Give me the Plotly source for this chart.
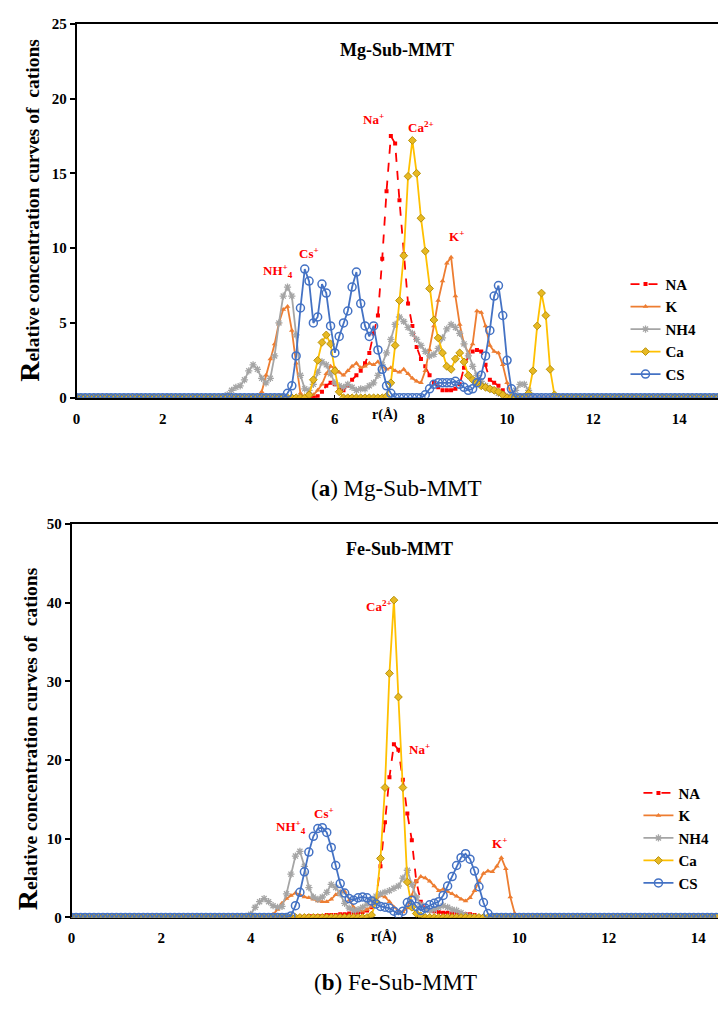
import plotly.graph_objects as go

# ---------------- data (step 0.1 Å) ----------------
STEP = 0.1
mg_r = [round(i * STEP, 1) for i in range(150)]   # 0 .. 14.9
fe_r = [round(i * STEP, 1) for i in range(145)]   # 0 .. 14.4

series_names = ["NA", "K", "NH4", "Ca", "CS"]

# Mg-Sub-MMT: (start r, values)
mg_na_start = 5.6
mg_na = [0.1, 0.4, 0.8, 1.0, 0.9, 0.6, 0.5, 0.8, 1.2, 1.5,
         1.8, 2.3, 3.0, 4.3, 5.5, 9.3, 13.8, 17.5, 17.0, 13.2,
         9.6, 6.3, 4.8, 3.4, 2.6, 2.1, 1.5, 1.0, 0.7, 0.5,
         0.5, 0.5, 0.6, 0.9, 2.0, 2.8, 3.1, 3.2, 3.1, 2.2,
         1.2, 1.0, 0.8, 0.5, 0.1]
mg_k_start = 4.3
mg_k = [0.4, 1.5, 2.6, 3.6, 5.0, 5.9, 6.1, 4.5, 2.3, 0.3,
        0.0, 0.0, 0.2, 0.5, 0.9, 1.6, 2.1, 2.0, 1.7, 1.5,
        1.8, 2.1, 2.3, 2.0, 2.1, 2.3, 2.2, 2.4, 2.1, 1.9,
        2.0, 1.8, 1.7, 1.9, 1.6, 1.3, 1.1, 1.0, 1.8, 3.2,
        4.8, 6.5, 7.8, 9.0, 9.4, 6.8, 4.9, 3.6, 3.0, 3.6,
        5.8, 5.7, 4.8, 3.5, 3.1, 3.0, 2.2, 1.0, 0.2]
mg_nh4_start = 3.5
mg_nh4 = [0.2, 0.5, 0.7, 0.8, 1.2, 1.8, 2.2, 1.9, 1.3, 1.0,
          1.3, 2.8, 5.0, 6.8, 7.4, 6.8, 4.2, 1.5, 0.6, 0.5,
          0.9, 1.7, 2.4, 2.2, 1.6, 1.0, 0.8, 0.7, 0.9, 0.7,
          0.5, 0.6, 0.6, 0.8, 1.0, 1.5, 2.2, 3.0, 3.9, 4.9,
          5.4, 5.1, 4.7, 4.3, 3.9, 3.5, 3.1, 2.8, 2.9, 3.3,
          4.0, 4.6, 4.9, 4.7, 4.3, 3.6, 2.8, 2.1, 1.5, 1.1,
          0.8, 0.6, 0.5, 0.3, 0.2, 0.1, 0.2, 0.5, 0.9, 0.9,
          0.5, 0.1]
mg_ca_start = 5.3
mg_ca = [0.0, 0.2, 1.2, 2.5, 3.7, 4.2, 3.6, 1.8, 0.4, 0.0,
         0.0, 0.0, 0.0, 0.0, 0.0, 0.0, 0.0, 0.0, 0.0, 0.1,
         1.0, 3.5, 6.5, 9.5, 14.8, 17.2, 15.0, 12.0, 9.8, 7.3,
         5.2, 4.0, 3.0, 2.1, 1.9, 2.6, 3.0, 2.4, 1.5, 1.2,
         1.0, 0.8, 0.7, 0.6, 0.5, 0.4, 0.2, 0.0, 0.0, 0.0,
         0.0, 0.0, 0.3, 1.8, 4.8, 7.0, 5.5, 1.9, 0.2]
mg_cs_start = 4.8
mg_cs = [0.0, 0.3, 0.8, 2.8, 6.0, 8.6, 7.8, 5.0, 5.4, 7.6,
         7.0, 4.8, 3.0, 4.1, 5.0, 5.8, 7.4, 8.4, 6.3, 4.8,
         4.1, 4.8, 3.2, 1.9, 0.8, 0.3, 0.0, 0.0, 0.0, 0.0,
         0.0, 0.0, 0.0, 0.2, 0.6, 0.9, 1.0, 1.0, 1.0, 1.0,
         1.1, 0.9, 0.7, 0.5, 0.6, 1.0, 1.5, 2.8, 4.5, 6.8,
         7.5, 5.5, 2.5, 0.6, 0.0]

# Fe-Sub-MMT
fe_na_start = 5.0
fe_na = [0.1, 0.1, 0.1, 0.2, 0.2, 0.2, 0.2, 0.3, 0.3, 0.3,
         0.4, 0.4, 0.5, 0.5, 0.6, 0.7, 0.9, 1.3, 2.4, 6.5,
         12.1, 17.8, 22.0, 21.3, 17.5, 13.2, 9.8, 4.6, 2.0, 1.2,
         0.9, 0.8, 0.7, 0.6, 0.6, 0.5, 0.5, 0.5, 0.4, 0.4,
         0.3, 0.1]
fe_k_start = 4.4
fe_k = [0.1, 0.4, 1.0, 1.8, 2.4, 2.8, 3.1, 2.9, 2.6, 2.5,
        2.3, 2.1, 2.0, 2.0, 2.3, 2.9, 3.3, 3.3, 2.2, 1.3,
        0.9, 0.8, 1.0, 1.4, 2.2, 2.8, 2.6, 2.0, 1.3, 0.8,
        0.7, 1.2, 2.8, 4.6, 5.2, 5.0, 4.6, 4.0, 3.4, 3.6,
        3.3, 3.0, 2.7, 2.3, 2.1, 2.5, 3.4, 4.6, 5.6, 5.9,
        5.8, 6.5, 7.6, 6.2, 2.6, 0.5]
fe_nh4_start = 3.9
fe_nh4 = [0.1, 0.4, 1.3, 2.0, 2.4, 2.0, 1.5, 1.3, 1.4, 3.0,
          5.5, 7.8, 8.4, 6.5, 3.8, 2.6, 2.3, 2.6, 3.2, 4.2,
          3.8, 3.0, 1.8, 1.2, 0.9, 1.0, 1.3, 1.7, 2.2, 2.7,
          3.0, 3.2, 3.4, 3.7, 4.0, 5.0, 6.0, 4.2, 2.6, 1.6,
          1.0, 0.9, 1.0, 1.3, 1.5, 1.3, 1.0, 0.9, 0.6, 0.3,
          0.1]
fe_ca_start = 6.7
fe_ca = [0.3, 2.0, 7.5, 16.5, 31.0, 40.3, 28.0, 16.5, 4.5, 1.3,
         0.5, 0.2]
fe_cs_start = 4.9
fe_cs = [0.2, 1.5, 3.2, 5.8, 8.3, 10.3, 11.3, 11.4, 10.8, 8.9,
         6.6, 4.3, 3.1, 2.4, 2.2, 2.5, 2.6, 2.5, 2.1, 1.7,
         1.4, 1.3, 1.2, 0.8, 0.4, 0.8, 1.9, 2.2, 1.4, 0.9,
         1.2, 1.6, 1.8, 2.0, 2.8, 4.0, 5.2, 6.6, 7.6, 8.1,
         7.4, 5.9, 3.9, 1.9, 0.5, 0.0]

mg_ticks = [0, 2, 4, 6, 8, 10, 12, 14]
mg_yticks = [0, 5, 10, 15, 20, 25]
fe_yticks = [0, 10, 20, 30, 40, 50]


def full(grid, start, vals):
    arr = [0.0] * len(grid)
    i0 = int(round(start / STEP))
    for i, v in enumerate(vals):
        if i0 + i < len(arr):
            arr[i0 + i] = v
    return arr


mg_data = [full(mg_r, mg_na_start, mg_na), full(mg_r, mg_k_start, mg_k),
           full(mg_r, mg_nh4_start, mg_nh4), full(mg_r, mg_ca_start, mg_ca),
           full(mg_r, mg_cs_start, mg_cs)]
fe_data = [full(fe_r, fe_na_start, fe_na), full(fe_r, fe_k_start, fe_k),
           full(fe_r, fe_nh4_start, fe_nh4), full(fe_r, fe_ca_start, fe_ca),
           full(fe_r, fe_cs_start, fe_cs)]

# ---------------- styles ----------------
styles = [
    dict(line=dict(color="#FF0000", width=1.8, dash="dash"),
         marker=dict(symbol="square", size=4, color="#FF0000")),
    dict(line=dict(color="#ED7D31", width=1.8),
         marker=dict(symbol="triangle-up", size=5, color="#ED7D31")),
    dict(line=dict(color="#A5A5A5", width=1.8),
         marker=dict(symbol="asterisk-open", size=6, color="#A5A5A5",
                     line=dict(color="#A5A5A5", width=1.3))),
    dict(line=dict(color="#FFC000", width=1.8),
         marker=dict(symbol="diamond", size=6, color="#E8B923",
                     line=dict(color="#B8920A", width=1))),
    dict(line=dict(color="#4472C4", width=1.8),
         marker=dict(symbol="circle-open", size=8, color="#4472C4",
                     line=dict(color="#4472C4", width=1.5))),
]

W, H = 718, 1018


def px(xp):
    return xp / W


def py(yp):
    return (H - yp) / H


SERIF = "Liberation Serif"
fig = go.Figure()

for i, name in enumerate(series_names):
    fig.add_trace(go.Scatter(x=mg_r, y=mg_data[i], name=name, mode="lines+markers",
                             xaxis="x", yaxis="y", legend="legend", **styles[i]))
for i, name in enumerate(series_names):
    fig.add_trace(go.Scatter(x=fe_r, y=fe_data[i], name=name, mode="lines+markers",
                             xaxis="x2", yaxis="y2", legend="legend2", **styles[i]))

tickfont = dict(family=SERIF, size=15, color="black", weight="bold")
axis_common = dict(showgrid=False, zeroline=False, showline=True, linecolor="black",
                   linewidth=1.5, tickfont=tickfont, tickcolor="black")

fig.update_layout(
    width=W, height=H, margin=dict(l=0, r=0, t=0, b=0),
    paper_bgcolor="white", plot_bgcolor="white",
    xaxis=dict(domain=[px(73), 1.0], anchor="y", range=[0, 14.9],
               tickvals=mg_ticks, ticks="inside", ticklen=3, tickwidth=1.2,
               mirror=True, layer="below traces", ticklabelstandoff=6, **axis_common),
    yaxis=dict(domain=[py(396), py(16)], anchor="x", range=[0, 25],
               tickvals=mg_yticks, ticks="outside", ticklen=5, tickwidth=1.5,
               **axis_common),
    xaxis2=dict(domain=[px(68), 1.0], anchor="y2", range=[0, 14.44],
                tickvals=mg_ticks, ticks="inside", ticklen=3, tickwidth=1.2,
                mirror=True, layer="below traces", ticklabelstandoff=6, **axis_common),
    yaxis2=dict(domain=[py(924), py(524)], anchor="x2", range=[0, 50],
                tickvals=fe_yticks, ticks="outside", ticklen=5, tickwidth=1.5,
                **axis_common),
    legend=dict(x=px(625), y=py(264), xanchor="left", yanchor="top",
                bgcolor="rgba(0,0,0,0)", tracegroupgap=0,
                font=dict(family=SERIF, size=15, color="black", weight="bold")),
    legend2=dict(x=px(638), y=py(781), xanchor="left", yanchor="top",
                 bgcolor="rgba(0,0,0,0)", tracegroupgap=0,
                 font=dict(family=SERIF, size=15, color="black", weight="bold")),
    showlegend=True,
)

ann = []


def add_text(text, x, y, font, xref="paper", yref="paper", angle=0):
    ann.append(dict(text=text, x=x, y=y, xref=xref, yref=yref, textangle=angle,
                    showarrow=False, xanchor="center", yanchor="middle", font=font))


ylabel = ("<span style='font-size:28px'>R</span>elative concentration curves of\u00a0 cations")
yfont = dict(family=SERIF, size=19.5, color="black", weight="bold")
add_text(ylabel, px(26), py(205), yfont, angle=-90)
add_text(ylabel, px(23), py(742), yfont, angle=-90)

xfont = dict(family=SERIF, size=14, color="black", weight="bold")
add_text("r(Å)", px(383), py(414), xfont)
add_text("r(Å)", px(382), py(944), xfont)

tfont = dict(family=SERIF, size=18, color="black", weight="bold")
add_text("Mg-Sub-MMT", px(395), py(43), tfont)
add_text("Fe-Sub-MMT", px(398), py(550), tfont)

cfont = dict(family=SERIF, size=23, color="black")
add_text("(<b>a</b>) Mg-Sub-MMT", px(395), py(488), cfont)
add_text("(<b>b</b>) Fe-Sub-MMT", px(394), py(990), cfont)

# ion labels (data coordinates)
red = dict(family=SERIF, size=13, color="#FF0000", weight="bold")
mg_labels = [("NH<sup>+</sup><sub>4</sub>", 4.67, 8.5), ("Cs<sup>+</sup>", 5.4, 9.7),
             ("Na<sup>+</sup>", 6.9, 18.6), ("Ca<sup>2+</sup>", 8.0, 18.1),
             ("K<sup>+</sup>", 8.82, 10.8)]
fe_labels = [("Ca<sup>2+</sup>", 6.87, 39.5), ("Na<sup>+</sup>", 7.78, 21.4),
             ("NH<sup>+</sup><sub>4</sub>", 4.89, 11.5), ("Cs<sup>+</sup>", 5.64, 13.3),
             ("K<sup>+</sup>", 9.56, 9.5)]
for t, x, y in mg_labels:
    add_text(t, x, y, red, xref="x", yref="y")
for t, x, y in fe_labels:
    add_text(t, x, y, red, xref="x2", yref="y2")

fig.update_layout(annotations=ann)
fig.write_html("out.html", config={"displayModeBar": False},
               post_script="document.body.style.margin='0px';")
